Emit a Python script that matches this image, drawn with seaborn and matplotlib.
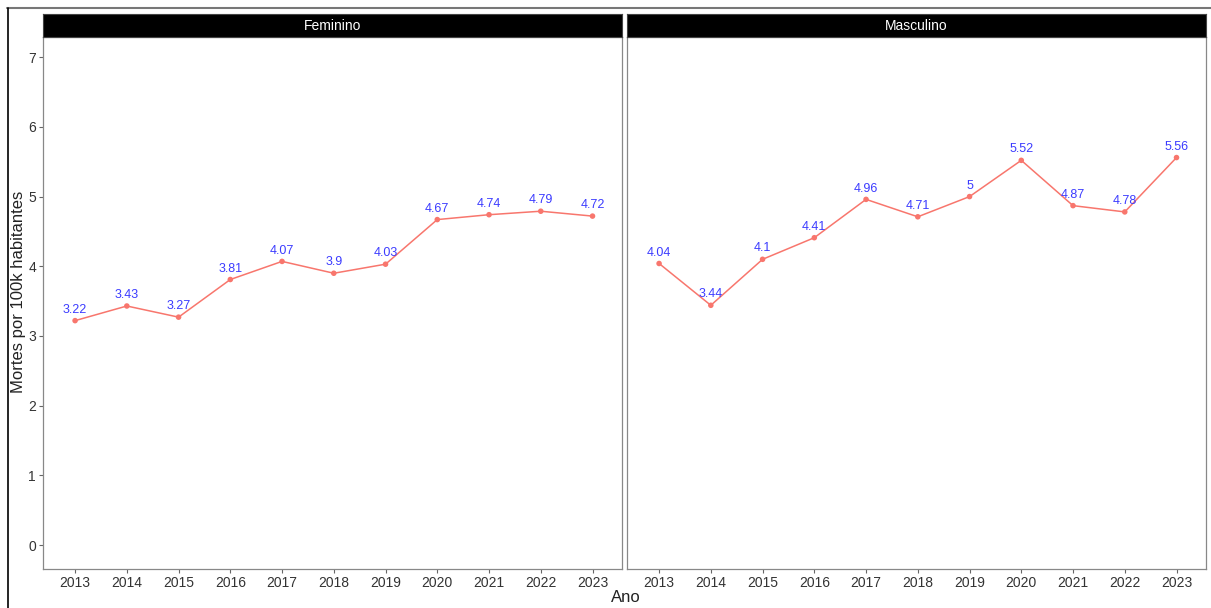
import matplotlib
matplotlib.use("Agg")
import matplotlib.pyplot as plt
import pandas as pd
import seaborn as sns
from matplotlib.lines import Line2D

years = [2013, 2014, 2015, 2016, 2017, 2018, 2019, 2020, 2021, 2022, 2023]
feminino = [3.22, 3.43, 3.27, 3.81, 4.07, 3.9, 4.03, 4.67, 4.74, 4.79, 4.72]
masculino = [4.04, 3.44, 4.1, 4.41, 4.96, 4.71, 5, 5.52, 4.87, 4.78, 5.56]
sexes = ["Feminino", "Masculino"]
y_ticks = [0, 1, 2, 3, 4, 5, 6, 7]

df = pd.DataFrame({
    "Ano": years * 2,
    "taxa": feminino + masculino,
    "sexo": ["Feminino"] * len(years) + ["Masculino"] * len(years),
})

sns.set_style("white")
plt.rcParams["font.family"] = ["Liberation Sans", "DejaVu Sans"]

W, H = 1211, 608
fig = plt.figure(figsize=(W / 100, H / 100), dpi=100)

panels = [(43, 622), (627, 1206)]
top, bottom, strip_top = 37, 569, 14
line_col = "#F8766D"

for (x0, x1), sexo in zip(panels, sexes):
    ax = fig.add_axes([x0 / W, 1 - bottom / H, (x1 - x0) / W, (bottom - top) / H])
    sub = df[df["sexo"] == sexo]
    sns.lineplot(data=sub, x="Ano", y="taxa", color=line_col, lw=1.1, ax=ax)
    sns.scatterplot(data=sub, x="Ano", y="taxa", color=line_col, s=16,
                    edgecolor="none", ax=ax, zorder=3)
    for xv, yv in zip(sub["Ano"], sub["taxa"]):
        ax.annotate(f"{yv:g}", (xv, yv), xytext=(0, 3.5), textcoords="offset points",
                    ha="center", va="bottom", color="#3B3BFF", fontsize=9)
    ax.set_xlim(2012.38, 2023.57)
    ax.set_ylim(-0.344, 7.29)
    ax.set_xticks(years)
    ax.set_yticks(y_ticks)
    ax.set_xlabel("")
    ax.set_ylabel("")
    ax.tick_params(axis="both", which="both", length=3, width=0.8, color="#666666",
                   labelsize=10, labelcolor="#333333", pad=2, bottom=True, left=True)
    if sexo != "Feminino":
        ax.set_yticklabels([])
        ax.tick_params(axis="y", left=False)
    for sp in ax.spines.values():
        sp.set_visible(True)
        sp.set_color("#888888")
        sp.set_linewidth(0.9)

    sax = fig.add_axes([x0 / W, 1 - top / H, (x1 - x0) / W, (top - strip_top) / H])
    sax.set_facecolor("black")
    sax.set_xticks([])
    sax.set_yticks([])
    for sp in sax.spines.values():
        sp.set_color("#444444")
    sax.text(0.5, 0.5, sexo, color="white", fontsize=10, ha="center", va="center",
             transform=sax.transAxes)

fig.text(626 / W, 1 - 597 / H, "Ano", ha="center", va="center", fontsize=12, color="#222222")
fig.text(19 / W, 1 - 292 / H, "Mortes por 100k habitantes", rotation=90,
         ha="center", va="center", fontsize=12, color="#222222")

# screenshot frame lines
fig.add_artist(Line2D([7 / W, 1], [1 - 7.5 / H] * 2, color="#777777", lw=1.5))
fig.add_artist(Line2D([7.5 / W] * 2, [0, 1 - 7.5 / H], color="black", lw=1.2))

fig.savefig("out.png", dpi=100)
